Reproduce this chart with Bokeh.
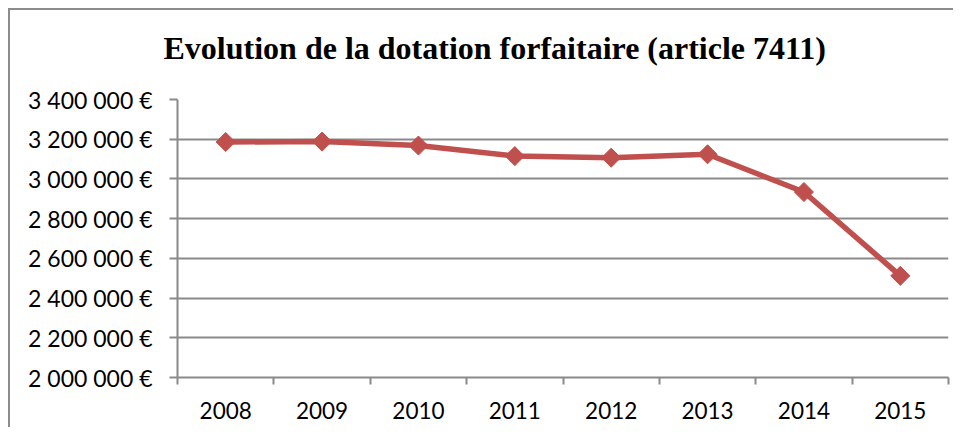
import numpy as np
from bokeh.plotting import figure
from bokeh.models import Range1d, FixedTicker, Title, ColumnDataSource
from bokeh.embed import file_html
from bokeh.resources import INLINE

title_text = "Evolution de la dotation forfaitaire (article 7411)"
years = ["2008", "2009", "2010", "2011", "2012", "2013", "2014", "2015"]
values = [3186000, 3188000, 3168000, 3115000, 3107000, 3124000, 2934000, 2512000]
y_ticks = [2000000, 2200000, 2400000, 2600000, 2800000, 3000000, 3200000, 3400000]
y_tick_labels = ["2 000 000 €", "2 200 000 €", "2 400 000 €", "2 600 000 €",
                 "2 800 000 €", "3 000 000 €", "3 200 000 €", "3 400 000 €"]

LINE_COLOR = "#C0504D"
GRID_COLOR = "#8A8A8A"

xs = [i + 0.5 for i in range(len(years))]
src = ColumnDataSource(dict(x=xs, y=values))

p = figure(width=945, height=419, output_backend="svg", toolbar_location=None,
           x_range=Range1d(0, len(years)), y_range=Range1d(y_ticks[0], y_ticks[-1]),
           min_border_left=167, min_border_right=7, min_border_top=89, min_border_bottom=52,
           styles={"border-left": "2px solid #8C8C8C", "border-top": "2px solid #8C8C8C",
                   "margin-left": "8px", "margin-top": "8px"})
p.outline_line_color = None
p.background_fill_color = "white"
p.border_fill_color = "white"

# spacer between the frame and the title
p.add_layout(Title(text=" ", text_font_size="1px", standoff=29), "above")
p.add_layout(Title(text=title_text, align="left", offset=-14, vertical_align="top",
                   text_font="Liberation Serif", text_font_style="bold",
                   text_font_size="32px", text_color="black", standoff=0), "above")

# x axis: labels at category centres, tick marks at boundaries
p.xaxis.ticker = FixedTicker(ticks=xs, minor_ticks=list(range(len(years) + 1)))
p.xaxis.major_label_overrides = {x: y for x, y in zip(xs, years)}
p.xaxis.major_tick_line_color = None
p.xaxis.minor_tick_line_color = GRID_COLOR
p.xaxis.minor_tick_line_width = 2
p.xaxis.minor_tick_out = 7
p.xaxis.minor_tick_in = 0
p.xaxis.axis_line_color = GRID_COLOR
p.xaxis.axis_line_width = 2
p.xaxis.major_label_text_font = "Lato"
p.xaxis.major_label_text_font_size = "22.5px"
p.xaxis.major_label_text_color = "black"
p.xaxis.major_label_standoff = 17

p.yaxis.ticker = FixedTicker(ticks=y_ticks, minor_ticks=[])
p.yaxis.major_label_overrides = {t: l for t, l in zip(y_ticks, y_tick_labels)}
p.yaxis.major_tick_line_color = GRID_COLOR
p.yaxis.major_tick_line_width = 2
p.yaxis.major_tick_out = 8
p.yaxis.major_tick_in = 0
p.yaxis.axis_line_color = GRID_COLOR
p.yaxis.axis_line_width = 2
p.yaxis.major_label_text_font = "Lato"
p.yaxis.major_label_text_font_size = "23px"
p.yaxis.major_label_text_color = "black"
p.yaxis.major_label_standoff = 17

p.xgrid.visible = False
p.ygrid.ticker = FixedTicker(ticks=y_ticks)
p.ygrid.grid_line_color = GRID_COLOR
p.ygrid.grid_line_width = 2

p.line("x", "y", source=src, line_color=LINE_COLOR, line_width=5.5)
p.scatter("x", "y", source=src, marker="square", angle=np.pi / 4, size=13.5,
          fill_color=LINE_COLOR, line_color=LINE_COLOR)

open("out.html", "w").write(file_html(p, INLINE))
